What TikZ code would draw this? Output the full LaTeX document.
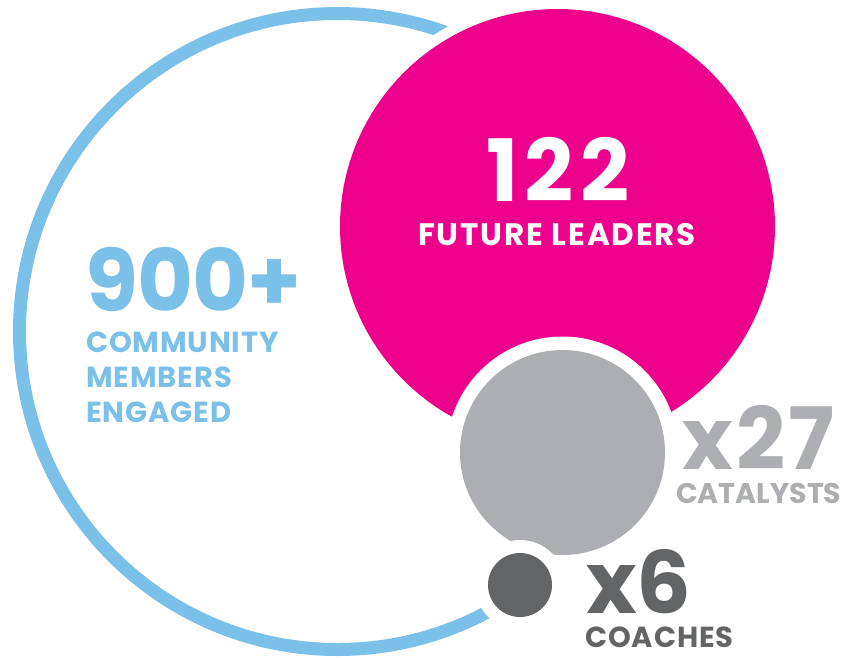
\documentclass[tikz,border=0pt]{standalone}
\usepackage{fontspec}
\setmainfont{Poppins}
\definecolor{skyblue}{HTML}{7BC0E8}
\definecolor{leaderpink}{HTML}{EC008C}
\definecolor{catgray}{HTML}{ADAEB1}
\definecolor{coachgray}{HTML}{636466}

\begin{document}
\begin{tikzpicture}[x=1pt,y=-1pt,
  bignum/.style={inner sep=0pt,text depth=0pt,font=\fontsize{86}{86}\selectfont\bfseries},
  caption/.style={inner sep=0pt,align=left,font=\fontsize{29}{35}\selectfont\bfseries\addfontfeature{LetterSpace=3}}]
  \useasboundingbox (0,0) rectangle (841,657);
  \path (337.5,331.5) coordinate (c900) (557.5,226.5) coordinate (c122)
  (562.5,452.5) coordinate (c27) (520,585) coordinate (c6);
  % rings and discs, back to front
  \draw[skyblue,line width=13pt] (c900) circle[radius=318pt];
  \fill[white] (c122) circle[radius=228pt];
  \fill[leaderpink] (c122) circle[radius=217.5pt];
  \fill[white] (c27) circle[radius=116pt];
  \fill[catgray] (c27) circle[radius=102.5pt];
  \fill[white] (c6) circle[radius=45pt];
  \fill[coachgray] (c6) circle[radius=32pt];
  % labels
  \node[bignum,text=skyblue,anchor=base west] (n900) at (85,311) {\addfontfeature{LetterSpace=-1}900+};
  \node[caption,text=skyblue,anchor=north west] (t900) at (86,332) {COMMUNITY\\MEMBERS\\ENGAGED};
  \node[bignum,text=white,anchor=base] (n122) at (558,201) {\addfontfeature{LetterSpace=7}122};
  \node[caption,text=white,anchor=base,font=\fontsize{31}{31}\selectfont\bfseries\addfontfeature{LetterSpace=6}] (t122) at (557,245) {FUTURE LEADERS};
  \node[bignum,text=catgray,anchor=base west] (n27) at (682,469) {\addfontfeature{LetterSpace=4}x27};
  \node[caption,text=catgray,anchor=base west,font=\fontsize{28.5}{28.5}\selectfont\bfseries] (t27) at (676,503) {CATALYSTS};
  \node[bignum,text=coachgray,anchor=base west] (n6) at (586,613) {x6};
  \node[caption,text=coachgray,anchor=base west] (t6) at (585,647) {COACHES};
\end{tikzpicture}
\end{document}
